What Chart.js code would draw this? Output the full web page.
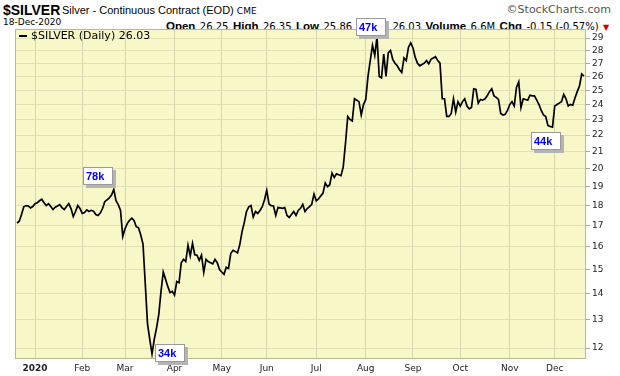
<!DOCTYPE html>
<html>
<head>
<meta charset="utf-8">
<script src="https://cdn.jsdelivr.net/npm/chart.js@4.4.1/dist/chart.umd.min.js"></script>
<style>
body{margin:0;background:#fff;width:620px;height:376px;overflow:hidden;position:relative;font-family:"Liberation Sans",Arial,sans-serif;color:#000}
.t{position:absolute;white-space:nowrap;line-height:1}
.v{font-family:"DejaVu Sans",sans-serif;font-size:10px}
.b{font-weight:bold;font-size:11.5px}
canvas{position:absolute;left:0;top:0;z-index:1}
#lg{z-index:2}
</style>
</head>
<body>
<div class="t" style="left:3px;top:3px;font-size:14px;font-weight:bold">$SILVER</div>
<div class="t" style="left:62px;top:5px;font-size:11px">Silver - Continuous Contract (EOD) <span style="font-family:'DejaVu Sans';font-size:9px">CME</span></div>
<div class="t" style="right:9px;top:4px;font-family:'DejaVu Sans';font-size:11px;color:#555">©StockCharts.com</div>
<div class="t" style="left:3px;top:18px;font-family:'DejaVu Sans';font-size:9px">18-Dec-2020</div>
<div class="t" style="left:166px;top:17px"><span class="b">Open</span> <span class="v">26.25</span> <span class="b">High</span> <span class="v">26.35</span> <span class="b">Low</span> <span class="v">25.86</span> <span class="b">Close</span> <span class="v">26.03</span> <span class="b">Volume</span> <span class="v">6.6M</span> <span class="b">Chg</span> <span class="v">-0.15 (-0.57%)</span> <span style="color:#c00;font-size:8px;font-family:'DejaVu Sans'">▼</span></div>
<canvas id="c" width="620" height="376"></canvas>
<div id="lg" class="t" style="left:19px;top:30px;font-family:'DejaVu Sans';font-size:11px"><span style="display:inline-block;width:8px;height:2px;background:#000;vertical-align:middle;margin-right:4px"></span>$SILVER (Daily) 26.03</div>
<script>
// daily closes, 19-Dec-2019 .. 18-Dec-2020
const dec19 = [17.13,17.22,17.55,17.94,18.00,17.98,17.88,17.95];
const jan = [18.10,18.15,18.25,18.33,18.15,18.00,18.10,17.95,17.80,17.92,17.98,18.05,17.90,17.80,17.95,18.10,17.85,17.45,17.70,18.00,17.85];
const feb = [17.60,17.65,17.78,17.70,17.76,17.72,17.55,17.50,17.62,17.85,18.20,18.30,18.40,18.55,18.85,18.25,18.05,17.75,16.49];
const mar = [16.85,17.10,17.26,17.37,17.25,16.95,16.90,16.55,16.13,14.41,12.85,12.30,11.80,12.30,12.70,13.20,14.10,14.90,14.60,14.30,14.05,14.10];
const apr = [13.95,14.50,14.45,15.30,15.45,15.35,16.08,15.60,16.17,15.65,15.63,15.40,15.63,14.88,15.44,15.35,15.30,15.25,15.44,15.30,15.00];
const may = [14.90,14.80,15.10,15.05,15.70,15.85,15.80,15.73,16.10,16.70,17.15,17.70,17.94,18.00,17.42,17.70,17.60,17.75,17.94,18.30];
const jun = [18.80,18.08,18.00,17.98,17.50,17.90,17.88,17.86,17.90,17.50,17.40,17.55,17.70,17.50,17.75,17.86,18.06,17.70,17.85,17.95,18.07,18.60];
const jul = [18.25,18.35,18.50,18.65,19.20,19.00,19.10,19.75,19.50,19.70,19.65,19.60,20.10,21.50,23.20,23.00,22.90,24.40,24.30,24.20,23.30,24.00];
const aug = [24.35,26.00,27.20,28.40,27.60,29.10,26.00,25.90,27.70,26.00,27.80,28.00,27.30,27.00,26.80,26.50,26.30,27.40,27.20,28.26,28.60];
const sep = [28.20,27.45,27.00,26.80,26.90,27.00,27.20,26.95,27.30,27.40,27.50,27.20,27.00,24.40,24.40,23.20,23.20,23.40,24.40,23.50,24.20];
const oct = [23.90,24.20,24.40,23.90,23.70,23.80,25.10,25.05,24.10,24.35,24.30,24.40,24.60,24.90,25.10,24.60,24.50,24.35,23.40,23.30,23.35,23.60];
const nov = [24.00,24.20,23.90,25.20,25.60,23.80,24.40,24.35,24.30,24.65,24.60,24.60,24.30,24.00,23.60,23.30,23.20,22.60,22.55,22.50];
const dec = [23.90,24.00,24.10,24.20,24.70,24.40,23.90,24.00,23.95,24.45,24.90,25.30,26.18,26.03];
const closes = [].concat(dec19,jan,feb,mar,apr,may,jun,jul,aug,sep,oct,nov,dec);

// first trading day of each month (index into closes) and their labels
const monthStarts = [8,29,48,70,91,111,133,155,176,197,219,239];
const monthLabels = ['2020','Feb','Mar','Apr','May','Jun','Jul','Aug','Sep','Oct','Nov','Dec'];
const priceTicks = [12,13,14,15,16,17,18,19,20,21,22,23,24,25,26,27,28,29];

// volume call-outs
const volIdx = [43,60,160,238];
const volText = ['78k','34k','47k','44k'];

const boxOffsets = {'78k':[-31,-22],'34k':[3,-10],'47k':[-21,-19],'44k':[-21,5]};

const plotBg = {
  id:'plotBg',
  beforeDraw(chart){
    const a = chart.chartArea, ctx = chart.ctx;
    ctx.save();
    ctx.fillStyle = '#f8f7c7';
    ctx.fillRect(a.left, a.top, a.right-a.left, a.bottom-a.top);
    ctx.restore();
  },
  afterDraw(chart){
    const a = chart.chartArea, ctx = chart.ctx;
    ctx.save();
    ctx.strokeStyle = '#b9b98f';
    ctx.lineWidth = 1;
    ctx.strokeRect(a.left+0.5, a.top+0.5, a.right-a.left-1, a.bottom-a.top-1);
    ctx.restore();
  }
};

const callouts = {
  id:'callouts',
  afterDraw(chart){
    const ctx = chart.ctx, xs = chart.scales.x, ys = chart.scales.y;
    ctx.save();
    volIdx.forEach((idx,k)=>{
      const px = xs.getPixelForValue(idx), py = ys.getPixelForValue(closes[idx]);
      const off = boxOffsets[volText[k]];
      const bx = Math.round(px+off[0]), by = Math.round(py+off[1]);
      ctx.fillStyle = '#b4b4b4';
      ctx.fillRect(bx+3, by+3, 30, 18);
      ctx.fillStyle = '#fff';
      ctx.fillRect(bx, by, 30, 18);
      ctx.strokeStyle = '#9a9a9a';
      ctx.lineWidth = 1;
      ctx.strokeRect(bx+0.5, by+0.5, 29, 17);
      ctx.fillStyle = '#0000ee';
      ctx.font = 'bold 11px "Liberation Sans", Arial';
      ctx.textBaseline = 'middle';
      ctx.fillText(volText[k], bx+3, by+9.5);
    });
    ctx.restore();
  }
};

new Chart(document.getElementById('c'), {
  type:'line',
  data:{
    datasets:[{
      label:'$SILVER (Daily)',
      data: closes.map((v,i)=>({x:i,y:v})),
      borderColor:'#000',
      borderWidth:1.7,
      pointRadius:0,
      tension:0
    }]
  },
  options:{
    responsive:false,
    animation:false,
    layout:{padding:{left:15,top:29,right:0,bottom:0}},
    plugins:{legend:{display:false},tooltip:{enabled:false}},
    scales:{
      x:{
        type:'linear', min:-0.9, max:252.9,
        afterBuildTicks: s=>{ s.ticks = monthStarts.map(v=>({value:v})); },
        afterFit: s=>{ s.height = 17; },
        grid:{color:'#d3d7a9', drawTicks:false},
        border:{display:false},
        ticks:{
          autoSkip:false, maxRotation:0, padding:4, color:'#222',
          font: c=>({family:'DejaVu Sans', size:9, weight: c.index===0 ? 'bold' : 'normal'}),
          callback:(v,i)=>monthLabels[i]
        }
      },
      y:{
        type:'logarithmic', position:'right', min:11.63, max:29.76,
        afterBuildTicks: s=>{ s.ticks = priceTicks.map(v=>({value:v})); },
        afterFit: s=>{ s.width = 34; },
        grid:{color:'#e0e0b6', tickLength:4, tickColor:'#aaa'},
        border:{display:false},
        ticks:{autoSkip:false, padding:2, color:'#222', font:{family:'DejaVu Sans', size:9}, callback:v=>String(v)}
      }
    }
  },
  plugins:[plotBg, callouts]
});
</script>
</body>
</html>
